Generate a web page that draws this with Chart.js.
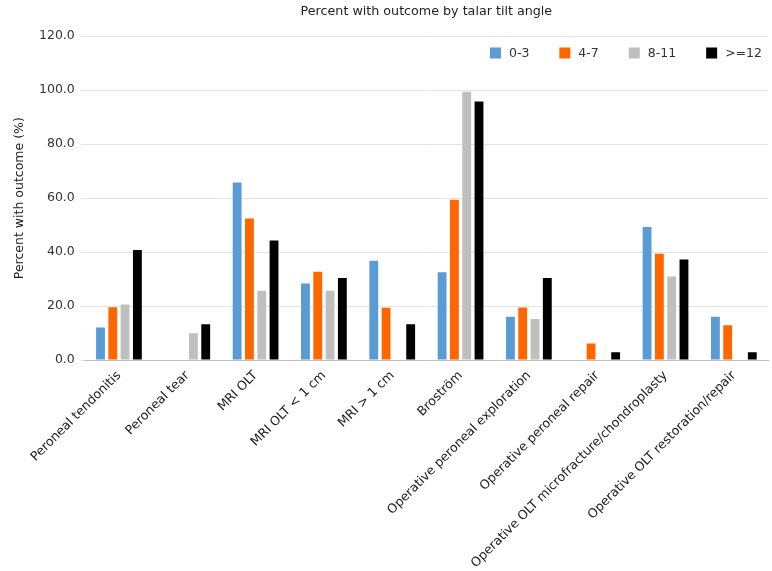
<!DOCTYPE html>
<html>
<head>
<meta charset="utf-8">
<script src="https://cdn.jsdelivr.net/npm/chart.js@4/dist/chart.umd.min.js"></script>
<style>
  html, body { margin: 0; padding: 0; background: #fff; }
  #wrap { width: 772px; height: 571px; position: relative; }
</style>
</head>
<body>
<div id="wrap"><canvas id="chart"></canvas></div>
<script>
// categories
const labels = [
    'Peroneal tendonitis',
    'Peroneal tear',
    'MRI OLT',
    'MRI OLT < 1 cm',
    'MRI > 1 cm',
    'Broström',
    'Operative peroneal exploration',
    'Operative peroneal repair',
    'Operative OLT microfracture/chondroplasty',
    'Operative OLT restoration/repair'
];

// series (percent with outcome)
const angle0to3 = [12.1, 0, 65.8, 28.4, 36.8, 32.6, 16.1, 0, 49.3, 16.1];
const angle4to7 = [19.6, 0, 52.5, 32.7, 19.4, 59.4, 19.5, 6.2, 39.4, 12.9];
const angle8to11 = [20.6, 10.0, 25.7, 25.7, 0, 99.4, 15.2, 0, 31.0, 0];
const angle12up = [40.8, 13.3, 44.3, 30.4, 13.3, 95.8, 30.4, 2.9, 37.3, 2.9];

const seriesNames = ['0-3', '4-7', '8-11', '>=12'];
const yTicks = [0, 20, 40, 60, 80, 100, 120];

const FONT = 'DejaVu Sans, Verdana, sans-serif';

// legend drawn inside the plot, top right
const insideLegend = {
    id: 'insideLegend',
    afterDraw(chart) {
        const ctx = chart.ctx;
        ctx.save();
        ctx.font = '12.5px ' + FONT;
        ctx.textBaseline = 'middle';
        const box = 11, gap = 8, space = 30;
        const items = chart.data.datasets.map(ds => ({
            text: ds.label,
            color: ds.backgroundColor,
            w: box + gap + ctx.measureText(ds.label).width
        }));
        let total = items.reduce((s, it) => s + it.w, 0) + space * (items.length - 1);
        let x = 762 - total;
        const y = 53;
        for (const it of items) {
            ctx.fillStyle = it.color;
            ctx.fillRect(x, y - box / 2, box, box);
            ctx.fillStyle = '#333';
            ctx.fillText(it.text, x + box + gap, y + 1);
            x += it.w + space;
        }
        ctx.restore();
    }
};

function drawBarChart() {
    const ctx = document.getElementById('chart').getContext('2d');
    new Chart(ctx, {
        type: 'bar',
        data: {
            labels: labels,
            datasets: [
                { label: seriesNames[0], data: angle0to3, backgroundColor: '#5b9bd5' },
                { label: seriesNames[1], data: angle4to7, backgroundColor: '#ff6600' },
                { label: seriesNames[2], data: angle8to11, backgroundColor: '#bfbfbf' },
                { label: seriesNames[3], data: angle12up, backgroundColor: '#000000' }
            ]
        },
        options: {
            responsive: true,
            maintainAspectRatio: false,
            animation: false,
            datasets: {
                bar: { categoryPercentage: 0.72, barPercentage: 0.72 }
            },
            layout: { padding: { left: 12, right: 4, top: 0, bottom: 0 } },
            plugins: {
                legend: { display: false },
                tooltip: { enabled: false },
                title: {
                    display: true,
                    text: 'Percent with outcome by talar tilt angle',
                    fullSize: false,
                    color: '#222',
                    font: { family: FONT, size: 12.7, weight: 'normal' },
                    padding: { top: 4, bottom: 17 }
                }
            },
            scales: {
                x: {
                    grid: { display: false },
                    border: { display: true, color: '#bfbfbf' },
                    ticks: {
                        color: '#222',
                        font: { family: FONT, size: 12.6 },
                        minRotation: 45,
                        maxRotation: 45,
                        autoSkip: false,
                        padding: 0
                    }
                },
                y: {
                    min: 0,
                    max: 120,
                    afterBuildTicks: axis => { axis.ticks = yTicks.map(v => ({ value: v })); },
                    grid: { color: '#e3e3e3', drawTicks: true, tickLength: 4, tickColor: '#e3e3e3' },
                    border: { display: false },
                    ticks: {
                        color: '#333',
                        font: { family: FONT, size: 12.5 },
                        padding: 6,
                        callback: v => Number(v).toFixed(1)
                    },
                    title: {
                        display: true,
                        text: 'Percent with outcome (%)',
                        color: '#222',
                        font: { family: FONT, size: 12.5 },
                        padding: { top: 0, bottom: 6 }
                    }
                }
            }
        },
        plugins: [insideLegend]
    });
}

drawBarChart();
</script>
</body>
</html>
